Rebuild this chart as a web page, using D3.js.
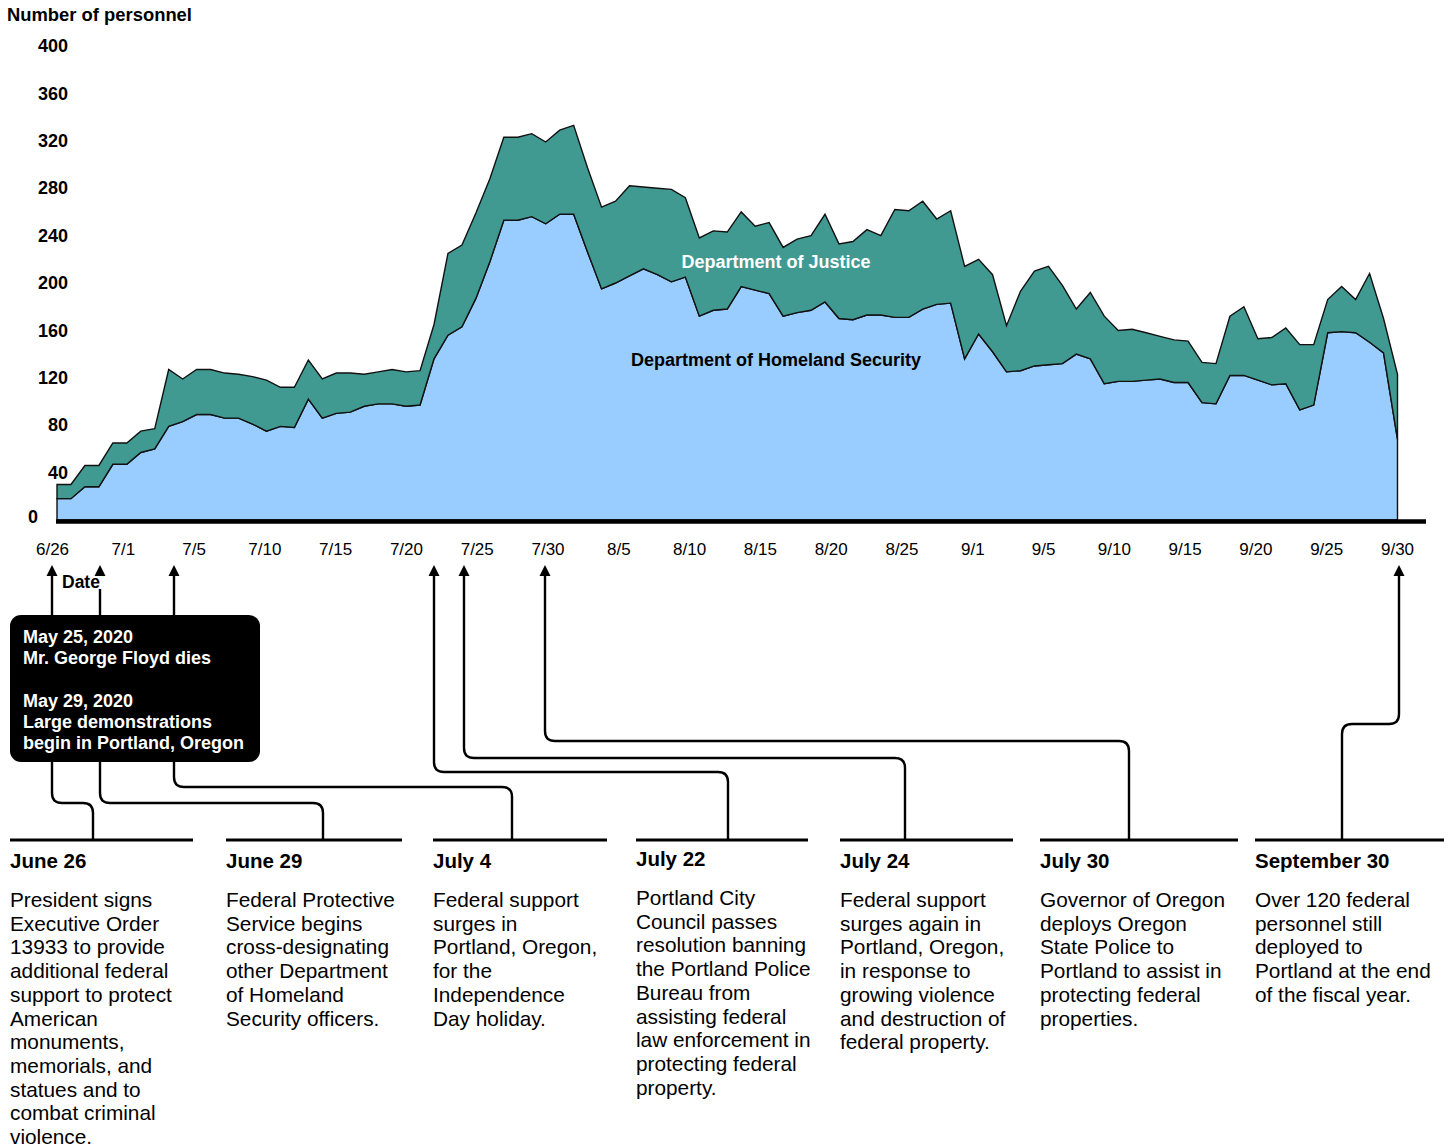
<!DOCTYPE html>
<html><head><meta charset="utf-8">
<script src="https://cdn.jsdelivr.net/npm/d3@7"></script>
<style>
body{margin:0;background:#fff}
text{font-family:"Liberation Sans",Arial,Helvetica,sans-serif}
</style>
</head><body>
<svg id="c" width="1452" height="1148"></svg>
<script>
// ---------- DATA ----------
const dates = d3.utcDay.range(new Date(Date.UTC(2020,5,26)), new Date(Date.UTC(2020,9,1)))
  .map(d => (d.getUTCMonth()+1) + "/" + d.getUTCDate());

const dhs = [18,18,28,28,47,47,57,60,79,83,
             89,89,86,86,81,75,79,78,102,86,
             90,91,96,98,98,96,97,136,156,163,
             187,218,253,253,256,250,258,258,226,195,
             200,206,212,207,201,205,172,177,178,197,
             194,191,172,175,177,184,170,169,173,173,
             171,171,178,182,183,136,157,142,125,126,
             130,131,132,140,136,115,117,117,118,119,
             116,116,99,98,122,122,118,114,115,93,
             97,158,159,158,150,141,68];

const doj = [12,12,18,18,18,18,18,17,48,36,
             38,38,38,37,40,43,33,34,33,33,
             34,33,27,27,29,29,29,29,69,69,
             72,70,70,70,70,69,71,75,71,69,
             69,76,69,73,78,67,66,67,65,63,
             54,60,58,62,63,74,63,66,72,67,
             91,90,91,72,78,78,63,65,39,67,
             80,83,66,38,56,57,43,44,40,36,
             36,35,34,34,50,58,35,40,47,55,
             51,28,38,28,58,29,55];

const tickLabels = ["6/26","7/1","7/5","7/10","7/15","7/20","7/25","7/30","8/5","8/10",
                    "8/15","8/20","8/25","9/1","9/5","9/10","9/15","9/20","9/25","9/30"];
const yTicks = [0,40,80,120,160,200,240,280,320,360,400];

const seriesNames = ["Department of Homeland Security","Department of Justice"];

const boxLines = ["May 25, 2020","Mr. George Floyd dies","","May 29, 2020",
                  "Large demonstrations","begin in Portland, Oregon"];

const eventTitles = ["June 26","June 29","July 4","July 22","July 24","July 30","September 30"];
const eventTexts = [
  ["President signs","Executive Order","13933 to provide","additional federal","support to protect","American","monuments,","memorials, and","statues and to","combat criminal","violence."],
  ["Federal Protective","Service begins","cross-designating","other Department","of Homeland","Security officers."],
  ["Federal support","surges in","Portland, Oregon,","for the","Independence","Day holiday."],
  ["Portland City","Council passes","resolution banning","the Portland Police","Bureau from","assisting federal","law enforcement in","protecting federal","property."],
  ["Federal support","surges again in","Portland, Oregon,","in response to","growing violence","and destruction of","federal property."],
  ["Governor of Oregon","deploys Oregon","State Police to","Portland to assist in","protecting federal","properties."],
  ["Over 120 federal","personnel still","deployed to","Portland at the end","of the fiscal year."]
];

// ---------- LAYOUT ----------
const svg = d3.select("#c");
const x = d3.scaleLinear().domain([0, dates.length-1]).range([57, 1397.5]);
const y = d3.scaleLinear().domain([0, 400]).range([520, 46]);
const xl = d3.scalePoint().domain(tickLabels).range([52, 1397]);

const table = dates.map((d,i) => ({date:d, dhs:dhs[i], doj:doj[i]}));
const stack = d3.stack().keys(["dhs","doj"])(table);
const colors = {dhs:"#99CCFF", doj:"#419A92"};

const area = d3.area()
  .x((d,i) => x(i))
  .y0(d => y(d[0]))
  .y1(d => y(d[1]));

svg.append("g").selectAll("path").data(stack).join("path")
  .attr("d", area)
  .attr("fill", d => colors[d.key])
  .attr("stroke", "#111")
  .attr("stroke-width", 1.4)
  .attr("stroke-linejoin", "miter");

// baseline
svg.append("line").attr("x1", 56).attr("x2", 1426).attr("y1", 521.5).attr("y2", 521.5)
  .attr("stroke", "#000").attr("stroke-width", 4.5);

// y axis labels
const ya = svg.append("g").attr("transform", "translate(68,0)")
  .call(d3.axisLeft(y).tickValues(yTicks).tickSize(0).tickPadding(0));
ya.select(".domain").remove();
ya.selectAll("text").attr("font-family", "Liberation Sans, Arial, sans-serif")
  .attr("font-size", 18).attr("font-weight", "bold").attr("fill", "#000");
ya.selectAll(".tick").filter(d => d === 0).select("text").attr("x", -30).attr("dy", "0.15em");

svg.append("text").attr("x", 7).attr("y", 21).attr("font-size", 18.4).attr("font-weight", "bold")
  .text("Number of personnel");

// x axis labels
const xa = svg.append("g").attr("transform", "translate(0,521)")
  .call(d3.axisBottom(xl).tickSize(0).tickPadding(22));
xa.select(".domain").remove();
xa.selectAll("text").attr("font-family", "Liberation Sans, Arial, sans-serif")
  .attr("font-size", 17).attr("fill", "#000");

// series labels
svg.append("text").attr("x", 776).attr("y", 268).attr("text-anchor", "middle")
  .attr("font-size", 18).attr("font-weight", "bold").attr("fill", "#fff").text(seriesNames[1]);
svg.append("text").attr("x", 776).attr("y", 366).attr("text-anchor", "middle")
  .attr("font-size", 18).attr("font-weight", "bold").attr("fill", "#000").text(seriesNames[0]);

// ---------- annotations ----------
const arrowX = [52, 100, 174, 434, 464, 545, 1399];
const startY = [574, 589, 574, 574, 574, 574, 574];
const hY = [803, 803, 787, 772, 758, 741, 724];
const stemX = [93, 323, 512, 728, 905, 1129, 1342];
const colX = [10, 226, 433, 636, 840, 1040, 1255];
const barEnd = [193, 402, 607, 808, 1013, 1238, 1444];
const colDy = [0, 0, 0, -2, 0, 0, 0];
const tipY = 565, barY = 840, r = 10;

const conn = svg.append("g").attr("fill", "none").attr("stroke", "#000").attr("stroke-width", 2.4);
arrowX.forEach((ax, i) => {
  const sx = stemX[i], hy = hY[i];
  const dir = sx > ax ? 1 : -1;
  const p = `M${ax},${startY[i]} V${hy-r} Q${ax},${hy} ${ax+dir*r},${hy} H${sx-dir*r} Q${sx},${hy} ${sx},${hy+r} V${barY}`;
  conn.append("path").attr("d", p);
});
svg.append("g").selectAll("path").data(arrowX).join("path")
  .attr("d", ax => `M${ax},${tipY} L${ax-5.5},${tipY+11} L${ax+5.5},${tipY+11} Z`)
  .attr("fill", "#000");

// bars under event columns
svg.append("g").selectAll("line").data(colX).join("line")
  .attr("x1", d => d).attr("x2", (d,i) => barEnd[i])
  .attr("y1", barY).attr("y2", barY)
  .attr("stroke", "#000").attr("stroke-width", 3);

// black box
svg.append("rect").attr("x", 10).attr("y", 615).attr("width", 250).attr("height", 147)
  .attr("rx", 11).attr("fill", "#000");
svg.append("g").selectAll("text").data(boxLines).join("text")
  .attr("x", 23).attr("y", (d,i) => 643 + i*21.2)
  .attr("font-size", 18).attr("font-weight", "bold").attr("fill", "#fff").text(d => d);

svg.append("text").attr("x", 62).attr("y", 588).attr("font-size", 17.5).attr("font-weight", "bold")
  .text("Date");

// event text
eventTitles.forEach((t, i) => {
  svg.append("text").attr("x", colX[i]).attr("y", 868 + colDy[i]).attr("font-size", 20.5)
    .attr("font-weight", "bold").text(t);
  svg.append("g").selectAll("text").data(eventTexts[i]).join("text")
    .attr("x", colX[i]).attr("y", (d,j) => 907 + colDy[i] + j*23.7)
    .attr("font-size", 20.8).attr("fill", "#000").text(d => d);
});
</script>
</body></html>
